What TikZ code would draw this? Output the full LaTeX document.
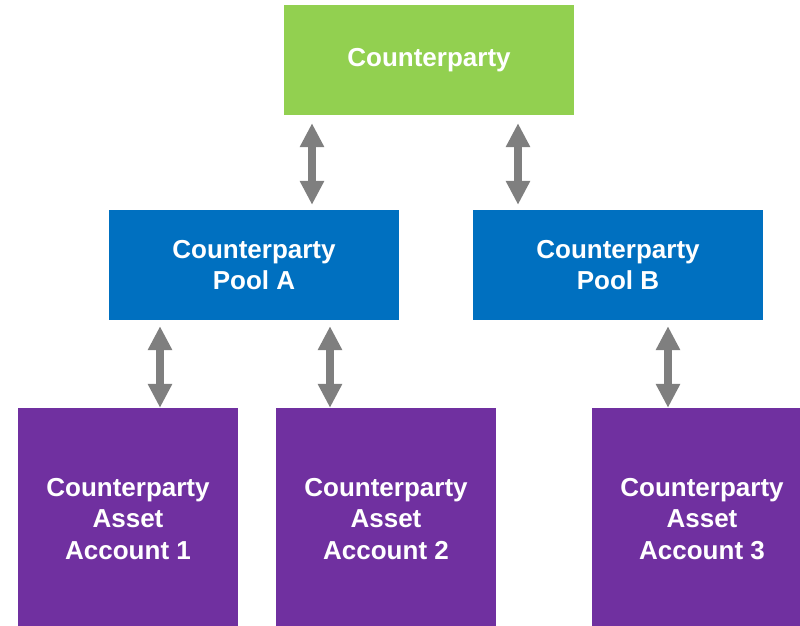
\documentclass[tikz,border=0pt]{standalone}
\usepackage{fontspec}
\setmainfont{Liberation Sans}
\usetikzlibrary{arrows.meta}
\definecolor{cpgreen}{HTML}{92D050}
\definecolor{cpblue}{HTML}{0070C0}
\definecolor{cppurple}{HTML}{7030A0}
\definecolor{arrowgray}{HTML}{7F7F7F}
\tikzset{
  box/.style={rectangle, inner sep=0pt, align=center, text=white,
    font=\fontsize{26}{31.5}\selectfont\bfseries},
  topbox/.style={box, fill=cpgreen, minimum width=290pt, minimum height=110pt},
  poolbox/.style={box, fill=cpblue, minimum width=290pt, minimum height=110pt},
  accbox/.style={box, fill=cppurple, minimum width=220pt, minimum height=222pt},
  dbl/.style={draw=arrowgray, line width=8pt,
    {Triangle[width=23pt,length=24pt]}-{Triangle[width=23pt,length=24pt]}}
}
\begin{document}
\begin{tikzpicture}[x=1pt,y=-1pt]
\useasboundingbox (0,0) rectangle (800,626);
\clip (0,0) rectangle (800,626);
\node[topbox] (top) at (429,60) {Counterparty};
\node[poolbox] (poolA) at (254,265) {Counterparty\\Pool A};
\node[poolbox] (poolB) at (618,265) {Counterparty\\Pool B};
\node[accbox] (acc1) at (128,519) {Counterparty\\Asset\\Account 1};
\node[accbox] (acc2) at (386,519) {Counterparty\\Asset\\Account 2};
\node[accbox] (acc3) at (702,519) {Counterparty\\Asset\\Account 3};
\coordinate (x1) at (312,0);
\coordinate (x2) at (518,0);
\coordinate (x3) at (160,0);
\coordinate (x4) at (330,0);
\coordinate (x5) at (668,0);
\draw[dbl, shorten <=8pt, shorten >=5pt] (top.south -| x1) -- (poolA.north -| x1);
\draw[dbl, shorten <=8pt, shorten >=5pt] (top.south -| x2) -- (poolB.north -| x2);
\draw[dbl, shorten <=6pt, shorten >=0pt] (poolA.south -| x3) -- (acc1.north -| x3);
\draw[dbl, shorten <=6pt, shorten >=0pt] (poolA.south -| x4) -- (acc2.north -| x4);
\draw[dbl, shorten <=6pt, shorten >=0pt] (poolB.south -| x5) -- (acc3.north -| x5);
\end{tikzpicture}
\end{document}
